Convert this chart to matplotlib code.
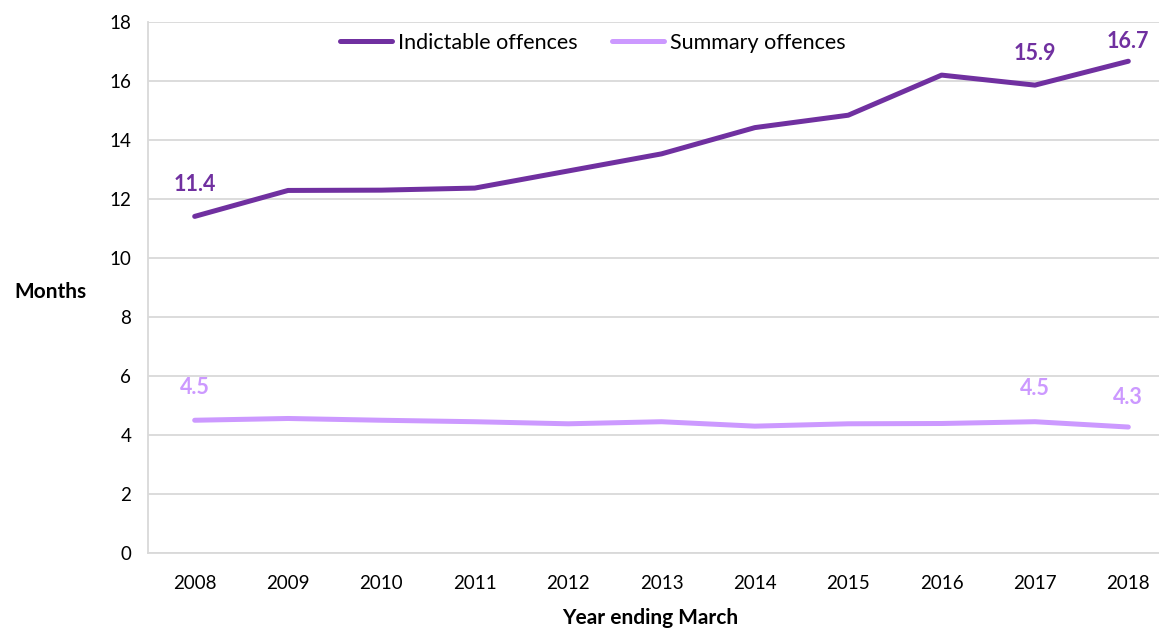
import matplotlib
matplotlib.use("Agg")
import matplotlib.pyplot as plt
from matplotlib.lines import Line2D

years = ["2008", "2009", "2010", "2011", "2012", "2013", "2014", "2015", "2016", "2017", "2018"]
indictable = [11.41, 12.29, 12.3, 12.37, 12.95, 13.53, 14.42, 14.84, 16.2, 15.86, 16.67]
summary = [4.5, 4.56, 4.5, 4.45, 4.38, 4.45, 4.3, 4.38, 4.39, 4.45, 4.27]
yticks = [0, 2, 4, 6, 8, 10, 12, 14, 16, 18]

ind_labels = {0: "11.4", 9: "15.9", 10: "16.7"}
sum_labels = {0: "4.5", 9: "4.5", 10: "4.3"}

c_ind = "#7030A0"
c_sum = "#CC99FF"
grid_c = "#D9D9D9"

plt.rcParams['font.family'] = ['Lato', 'DejaVu Sans']

fig = plt.figure(figsize=(11.59, 6.30), dpi=100)
ax = fig.add_axes([148/1159, 77/630, (1175-148)/1159, 531/630])

x = list(range(len(years)))
ax.plot(x, indictable, color=c_ind, lw=3.6, solid_capstyle='round', zorder=3)
ax.plot(x, summary, color=c_sum, lw=3.6, solid_capstyle='round', zorder=3)

for i, t in ind_labels.items():
    off = 20 if i == 10 else 32
    ax.annotate(t, (x[i], indictable[i]), xytext=(0, off), textcoords='offset pixels',
                ha='center', va='center', color=c_ind, fontsize=15.5, fontweight='bold')
for i, t in sum_labels.items():
    off = 30 if i == 10 else 33
    ax.annotate(t, (x[i], summary[i]), xytext=(0, off), textcoords='offset pixels',
                ha='center', va='center', color=c_sum, fontsize=15.5, fontweight='bold')

ax.set_xlim(-0.5, 10.5)
ax.set_ylim(0, 18)
ax.set_yticks(yticks)
ax.set_xticks(x)
ax.set_xticklabels(years)
ax.tick_params(axis='both', length=0, labelsize=13.5, colors='black')
ax.tick_params(axis='x', pad=16)
ax.tick_params(axis='y', pad=12)
ax.grid(axis='y', color=grid_c, lw=1.3)
ax.set_axisbelow(True)
for s in ['top', 'right']:
    ax.spines[s].set_visible(False)
for s in ['left', 'bottom']:
    ax.spines[s].set_color(grid_c)
    ax.spines[s].set_linewidth(1.3)

fig.text(50/1159, 1 - 292/630, "Months", ha='center', va='center', fontsize=15, fontweight='bold')
fig.text(650/1159, 1 - 618/630, "Year ending March", ha='center', va='center', fontsize=15, fontweight='bold')

handles = [Line2D([], [], color=c_ind, lw=3.6, solid_capstyle='round'),
           Line2D([], [], color=c_sum, lw=3.6, solid_capstyle='round')]
fig.legend(handles, ["Indictable offences", "Summary offences"], loc='center',
           bbox_to_anchor=(593/1159, 1 - 43/630), ncol=2, frameon=False, fontsize=15.5,
           handlelength=2.4, handletextpad=0.3, columnspacing=1.6)

fig.savefig("out.png", dpi=100)
